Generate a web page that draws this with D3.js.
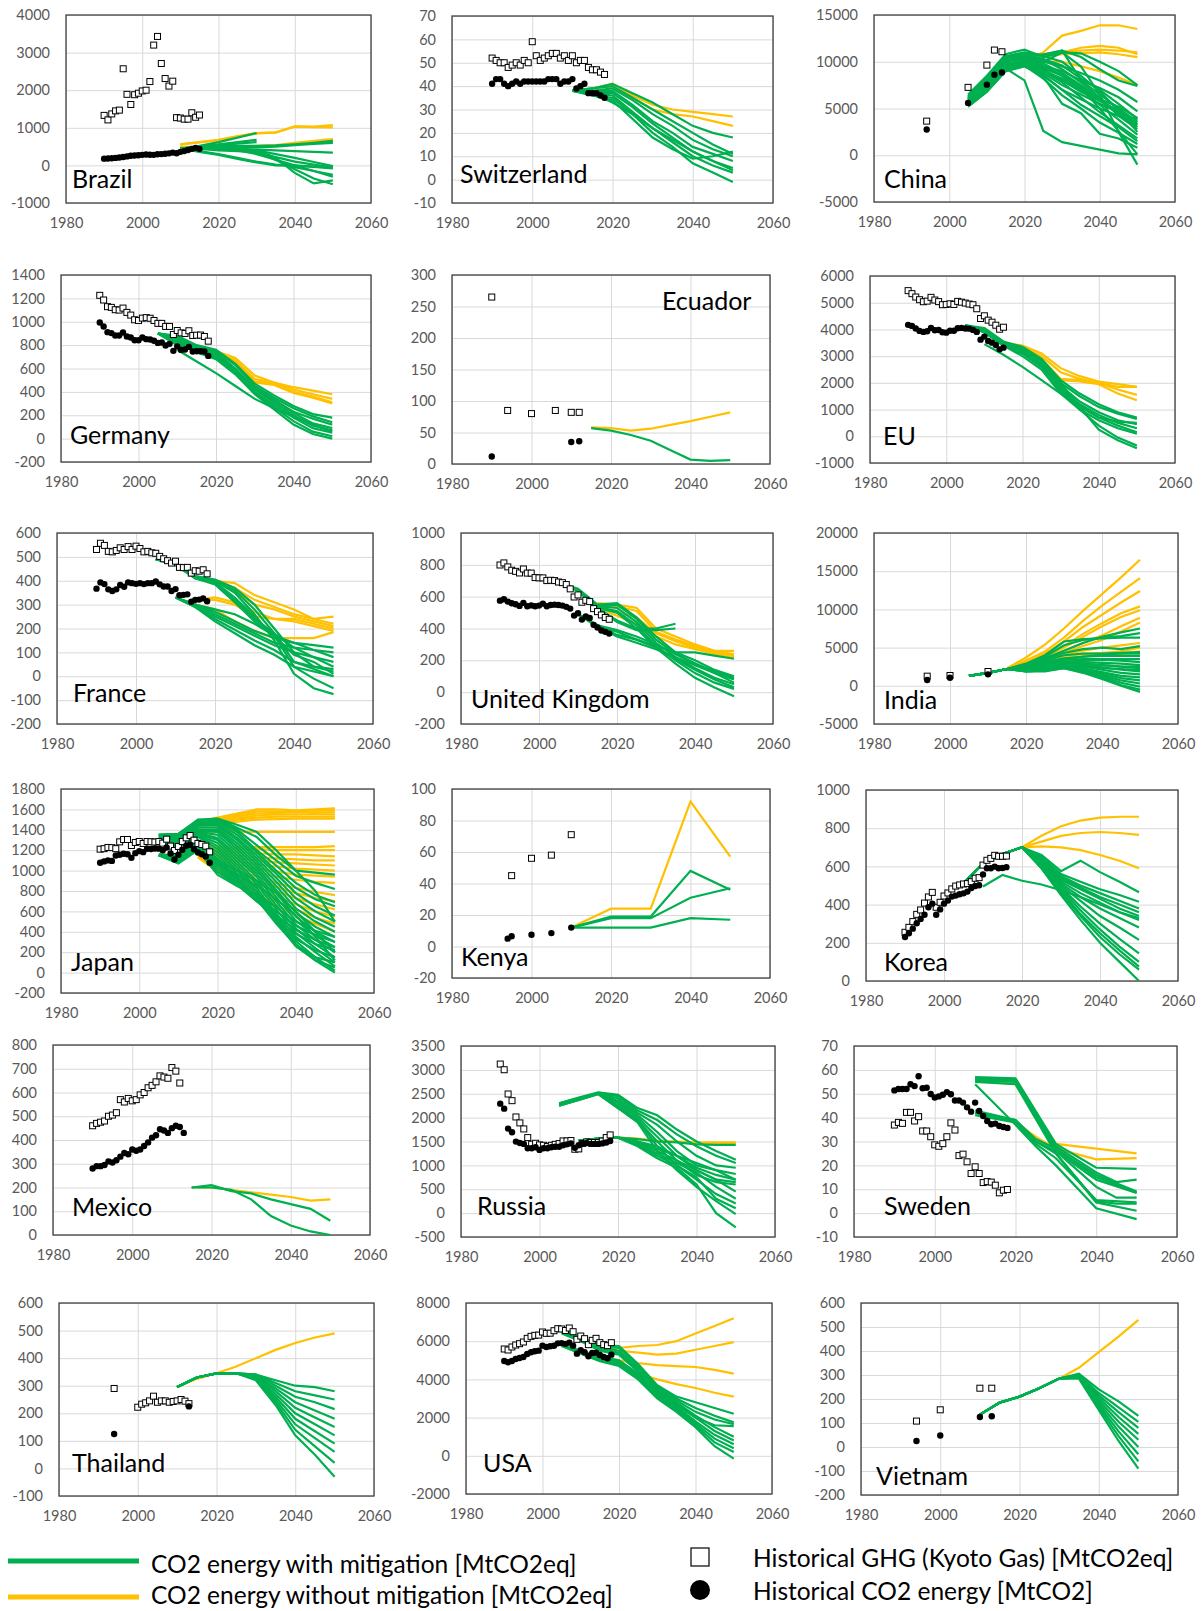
<!DOCTYPE html>
<html lang="en">
<head>
<meta charset="utf-8">
<title>CO2 energy pathways by country</title>
<script src="https://cdn.jsdelivr.net/npm/d3@7"></script>
<style>
  body { margin: 0; background: #fff; }
  svg text { font-family: Lato, "Open Sans", sans-serif; }
</style>
</head>
<body>
<div id="chart"></div>
<script>
// ---- data ----
const histYears = [1990,1991,1992,1993,1994,1995,1996,1997,1998,1999,2000,2001,2002,2003,2004,
                   2005,2006,2007,2008,2009,2010,2011,2012,2013,2014,2015,2016,2017,2018];
const scenYears = [2005,2010,2015,2020,2025,2030,2035,2040,2045,2050];

// Brazil
const brazilGhg = [1330,1210,1370,1450,1470,2570,1890,1620,1880,1920,1980,2000,2230,3200,3430,2710,2310,2110,2240,1270,1260,1230,1230,1400,1280,1340,null,null,null];
const brazilCo2 = [180,185,190,200,210,225,240,255,265,270,280,290,285,280,295,300,310,320,340,325,360,380,410,440,465,440,null,null,null];
const brazilMitigation = [
  [null,450,520,620,740,860,null,null,null,null],
  [null,450,500,560,620,680,null,null,null,null],
  [null,450,500,540,580,620,null,null,null,null],
  [null,450,480,520,520,520,530,560,600,650],
  [null,450,470,500,490,480,500,540,570,600],
  [null,450,460,450,440,420,400,380,360,340],
  [null,450,450,430,420,400,300,200,90,-20],
  [null,450,440,400,380,350,220,100,20,-50],
  [null,450,380,300,200,100,20,0,-30,-60],
  [null,450,360,280,170,80,0,-10,-40,-80],
  [null,450,470,480,450,400,200,-200,-480,-400],
  [null,450,460,460,430,380,150,-100,-350,-500],
  [null,450,450,440,400,300,150,0,-150,-300],
  [null,450,455,450,420,350,150,-50,-150,-250]
];
const brazilBaseline = [
  [null,560,620,680,780,860,880,1040,1030,1070],
  [null,560,610,670,760,850,870,1030,1020,1010],
  [null,500,480,480,500,520,540,600,650,700],
  [null,480,460,460,480,500,520,580,620,660]
];

// Switzerland
const swissGhg = [52,51,50,50,48,49,50,49,51,50,59,53,51,52,53,54,54,52,53,51,53,50,51,51,48,47,47,46,45];
const swissCo2 = [41,43,43,41,40,41,42,41,42,42,42,42,42,42,43,43,43,41,42,42,43,39,40,41,37,37,37,36,35];
const swissMitigation = [
  [null,38,39,41,37,33,28,23,20,18],
  [null,38,39,40,35,30,25,20,15,11],
  [null,38,38,39,34,28,23,17,13,10],
  [null,38,38,38,32,25,20,14,11,8],
  [null,38,37,37,31,24,18,12,8,5],
  [null,38,37,36,29,22,16,10,6,3],
  [null,38,36,35,28,20,14,7,3,-1],
  [null,38,36,34,26,18,13,9,10,12],
  [null,38,37,33,28,22,17,12,8,4]
];
const swissBaseline = [
  [null,38,39,41,36,32,30,29,28,27],
  [null,38,39,40,35,30,28,27,25,23]
];

// China
const chinaYears = [1994,2005,2010,2012,2014];
const chinaGhg = [3650,7260,9640,11250,11070];
const chinaCo2 = [2750,5600,7550,8620,8850];
const chinaMitigation = [
  [6500,8500,10800,11300,10500,11000,10900,10000,9000,7500],
  [6000,8000,10500,10500,10800,11200,10500,9200,8000,7400],
  [5800,7800,10200,10200,10000,9500,8800,8000,7000,5700],
  [5600,7500,9800,10000,9500,9000,8000,7200,6200,4700],
  [5400,7300,9500,9800,9000,8200,7000,6000,5200,4000],
  [5300,7000,9300,9600,8800,7500,6500,5500,4600,3800],
  [5200,6800,9000,9500,8500,7000,6000,5000,4200,3500],
  [5500,7200,9400,10000,9200,8000,6800,5800,4800,3300],
  [5800,7700,10000,10400,9800,8800,7500,6000,4500,3000],
  [6000,8000,10300,10600,10200,9200,7800,6200,4200,2800],
  [6200,8200,10400,10800,10600,10000,8500,6800,4800,2500],
  [5600,7400,9600,10200,9600,8500,7000,5400,3800,2200],
  [5400,7200,9400,10000,9000,7800,6200,4600,3200,1800],
  [5300,7000,9200,9800,8600,7000,5400,4200,3000,1500],
  [5200,6800,9000,9600,8200,6400,5000,3500,2400,1200],
  [5500,7300,9500,9900,8400,5500,4500,2300,1800,800],
  [5700,7600,9800,10100,9300,8500,7200,5000,2600,100],
  [5900,7900,10100,10500,10000,11000,9500,6500,2500,-1000],
  [5500,7200,9300,8000,2600,1400,1000,600,200,100],
  [6100,8100,10500,10800,10300,9600,8200,7000,5500,3900],
  [5700,7500,9700,10100,9400,8600,7300,5900,4400,3200],
  [6300,8300,10600,11000,10700,11200,8000,6500,5000,3600]
];
const chinaBaseline = [
  [null,null,9800,10200,11000,12800,13300,13900,13900,13500],
  [null,null,9800,10500,10800,11000,11500,11700,11500,10800],
  [null,null,9800,10000,10400,11000,11200,11300,11200,11000],
  [null,null,9800,10300,10500,10800,10900,11000,10800,10500],
  [null,null,9800,10000,10000,10000,9500,9000,8300,7500]
];

// Germany
const germanyGhg = [1226,1186,1129,1123,1103,1100,1117,1080,1057,1017,1011,1031,1035,1030,1011,986,986,960,960,891,925,905,900,923,882,885,886,874,834];
const germanyCo2 = [994,960,911,903,882,882,908,874,865,842,842,865,851,848,838,819,822,797,811,751,788,759,762,785,745,748,748,745,708];
const germanyMitigation = [
  [900,880,800,760,640,470,370,280,210,180],
  [900,870,790,750,630,450,350,260,190,140],
  [900,860,780,740,600,430,330,220,130,90],
  [900,850,770,720,590,420,310,200,110,70],
  [900,840,760,700,570,400,290,180,90,50],
  [900,830,750,690,560,390,270,150,60,20],
  [900,820,740,680,550,380,250,120,40,0],
  [null,760,660,560,450,340,260,190,120,60],
  [900,800,760,720,580,430,330,230,170,120]
];
const germanyBaseline = [
  [null,null,780,750,690,540,480,440,410,380],
  [null,null,780,740,670,510,480,420,380,340],
  [null,null,770,730,660,490,470,400,360,310],
  [null,null,760,720,650,480,460,390,350,300]
];

// Ecuador
const ecuadorGhgYears = [1990,1994,2000,2006,2010,2012];
const ecuadorGhg = [265,85,80,85,82,82];
const ecuadorCo2Years = [1990,2010,2012];
const ecuadorCo2 = [12,35,36];
const ecuadorMitigation = [[null,null,57,53,46,37,22,7,5,6]];
const ecuadorBaseline = [[null,null,58,57,53,56,62,68,75,82]];

// EU
const euGhg = [5452,5339,5213,5113,5037,5060,5201,5100,5040,4925,4935,4960,4935,5050,5020,4987,4950,4925,4774,4409,4510,4347,4271,4158,4008,4083,null,null,null];
const euCo2 = [4171,4133,4033,3945,3907,3930,4058,3970,3980,3894,3880,3950,3950,4045,4058,4033,4030,3982,3907,3618,3731,3568,3505,3417,3254,3317,null,null,null];
const euMitigation = [
  [4150,4050,3550,3350,2900,2100,1600,1200,900,700],
  [4150,4000,3500,3300,2850,2000,1500,1100,850,650],
  [4150,3950,3500,3250,2800,1900,1300,900,600,450],
  [4150,3950,3450,3200,2700,1800,1200,800,500,300],
  [4150,3900,3400,3100,2600,1700,1100,700,400,150],
  [4150,3900,3400,3000,2500,1600,1000,600,300,100],
  [4150,3900,3450,3150,2700,2000,1100,250,-150,-450],
  [4150,3900,3400,3100,2600,1800,1000,400,-50,-350],
  [null,3450,3050,2600,2100,1600,1150,700,550,500]
];
const euBaseline = [
  [null,null,3500,3400,3100,2550,2250,2050,1950,1850],
  [null,null,3500,3350,3000,2400,2150,2000,1850,1850],
  [null,null,3450,3300,2900,2150,2100,2000,1750,1550],
  [null,null,3450,3250,2850,2100,2050,1950,1600,1350]
];

// France
const franceGhg = [531,557,548,523,521,527,538,531,543,531,545,535,521,523,517,515,502,492,484,474,482,456,455,456,432,442,440,446,429];
const franceCo2 = [367,393,386,364,357,364,382,375,393,390,387,390,386,390,390,397,385,376,376,357,365,339,341,343,312,320,321,326,314];
const franceMitigation = [
  [490,470,420,405,370,300,200,100,40,20],
  [490,470,420,400,360,280,180,60,30,0],
  [490,470,415,400,350,260,150,10,-50,-75],
  [490,470,415,395,330,250,170,40,-10,-50],
  [490,470,410,390,320,240,180,120,80,40],
  [490,465,410,385,310,230,170,140,110,80],
  [null,330,300,270,230,190,160,140,130,120],
  [null,330,300,260,220,180,140,120,110,100],
  [null,330,295,250,210,170,130,100,80,60],
  [null,330,290,240,195,150,110,60,40,30],
  [null,330,290,230,180,130,90,40,20,0],
  [null,330,300,280,260,220,170,90,60,10]
];
const franceBaseline = [
  [null,null,410,400,390,340,310,280,240,250],
  [null,null,410,400,370,320,290,260,240,220],
  [null,null,410,395,360,300,280,250,230,210],
  [null,null,320,330,310,270,240,240,220,200],
  [null,null,300,280,230,190,160,160,160,185],
  [null,null,320,320,300,250,240,230,210,190]
];

// United Kingdom
const ukGhg = [799,812,787,766,759,749,774,748,748,720,718,718,701,703,701,692,688,676,649,598,611,565,577,569,525,506,485,469,458];
const ukCo2 = [575,584,569,559,552,542,561,540,545,540,544,556,540,548,550,548,544,536,525,481,496,456,475,466,423,406,387,379,368];
const ukMitigation = [
  [690,650,550,560,470,350,250,200,140,100],
  [690,645,545,550,460,330,240,180,120,80],
  [690,640,540,530,440,310,220,150,90,50],
  [690,640,535,510,420,290,200,120,60,20],
  [690,635,530,500,400,280,180,90,30,-25],
  [690,640,530,450,400,400,430,null,null,null],
  [690,640,530,440,390,390,400,null,null,null],
  [null,490,420,360,330,290,250,250,230,210],
  [null,490,410,350,310,270,220,170,120,60],
  [null,490,410,380,330,280,210,140,80,30],
  [null,490,420,390,350,300,240,180,130,90]
];
const ukBaseline = [
  [null,null,560,550,530,400,350,300,260,260],
  [null,null,550,540,510,380,330,290,255,240],
  [null,null,540,500,470,370,320,280,250,230],
  [null,null,530,480,430,350,300,270,240,220]
];

// India
const indiaYears = [1994,2000,2010];
const indiaGhg = [1260,1350,1870];
const indiaCo2 = [750,1050,1500];
const indiaMitigation = [
  [1300,1700,2200,2800,3600,4600,5600,6400,7000,7500],
  [1300,1700,2200,2900,4000,5800,6100,6200,6300,6300],
  [1300,1700,2200,2800,3800,5300,6000,6300,6500,6900],
  [1300,1700,2200,2700,3500,4300,4800,5000,4800,5200],
  [1300,1700,2200,2700,3300,4000,4200,4200,4300,4400],
  [1300,1700,2200,2600,3100,3600,3800,3900,3900,3900],
  [1300,1700,2200,2500,3000,3400,3500,3500,3500,3500],
  [1300,1700,2200,2500,2900,3200,3100,3000,2900,2700],
  [1300,1700,2200,2400,2800,3000,2900,2700,2500,2300],
  [1300,1700,2200,2300,2600,2900,2700,2400,2100,1900],
  [1300,1700,2200,2200,2500,2800,2500,2100,1700,1500],
  [1300,1700,2200,2100,2400,2700,2300,1800,1300,1100],
  [1300,1700,2200,2000,2200,2600,2100,1600,1000,700],
  [1300,1700,2200,2000,2100,2500,2000,1400,700,300],
  [1300,1700,2200,1900,2000,2400,1900,1200,400,-100],
  [1300,1700,2200,1900,1900,2300,1800,1000,100,-500],
  [1300,1700,2200,1900,2000,2300,1700,900,0,-800],
  [1300,1700,2200,2400,2900,3500,3800,4100,4200,4200],
  [1300,1700,2200,2300,2700,3100,3300,3400,3300,3100],
  [1300,1700,2200,2200,2600,2900,2800,2700,2500,2500],
  [1300,1700,2200,2100,2400,2800,2600,2300,2200,2100]
];
const indiaBaseline = [
  [null,null,2300,3700,5400,7500,9800,12000,14200,16500],
  [null,null,2200,3300,4500,6300,8500,10500,12300,14100],
  [null,null,2200,3100,4200,5800,7700,9300,10900,12400],
  [null,null,2200,3000,3900,5200,6800,8200,9500,10400],
  [null,null,2200,2900,3800,5000,6400,7800,9000,9900],
  [null,null,2200,2800,3600,4600,5600,6600,7800,8900],
  [null,null,2200,2800,3500,4300,5200,6000,7100,8300],
  [null,null,2100,2700,3300,4100,4600,5000,5300,5600],
  [null,null,2100,2700,3200,3900,4200,4300,4500,5000],
  [null,null,2100,2600,3100,3700,3900,4000,4200,4500]
];

// Japan
const japanGhg = [1210,1215,1227,1225,1215,1282,1305,1305,1246,1276,1285,1266,1285,1283,1280,1285,1269,1308,1240,1197,1237,1285,1321,1344,1298,1266,1256,1240,1184];
const japanCo2 = [1077,1090,1100,1095,1148,1155,1165,1160,1125,1171,1191,1181,1214,1212,1217,1215,1200,1227,1168,1109,1155,1204,1243,1253,1210,1178,1161,1139,1077];
const japanMitigation = [
  [1350,1360,1490,1510,1420,1330,1150,1000,980,960],
  [1350,1360,1480,1500,1400,1250,1100,950,880,820],
  [1350,1350,1470,1490,1380,1200,1050,880,760,690],
  [1340,1340,1460,1480,1350,1180,1000,830,720,650],
  [1340,1330,1450,1460,1320,1150,970,780,650,560],
  [1330,1320,1440,1440,1300,1120,930,730,600,500],
  [1330,1310,1420,1420,1270,1090,890,680,540,450],
  [1320,1300,1400,1400,1240,1060,850,630,500,400],
  [1320,1290,1390,1380,1210,1030,810,590,450,350],
  [1310,1280,1380,1350,1180,1000,780,550,400,300],
  [1300,1270,1370,1320,1150,970,740,510,360,250],
  [1300,1260,1360,1300,1120,940,700,470,320,200],
  [1290,1250,1350,1270,1090,900,660,430,280,150],
  [1280,1240,1340,1240,1060,870,620,390,240,100],
  [1270,1230,1330,1210,1030,830,580,350,200,60],
  [1160,1150,1300,1180,1000,800,550,310,150,20],
  [1160,1140,1280,1150,970,770,520,280,120,0],
  [1150,1130,1260,1120,940,740,500,260,120,50],
  [1150,1120,1250,1100,920,720,480,270,150,100],
  [1150,1110,1240,1080,900,720,520,330,220,150],
  [1150,1100,1230,1050,880,700,540,380,280,220],
  [1150,1090,1220,1020,860,700,560,420,320,250],
  [1150,1080,1210,990,860,740,600,460,370,300],
  [1150,1070,1200,960,850,760,640,500,410,350],
  [1150,1080,1230,1100,1000,900,780,600,400,200],
  [1150,1080,1220,1060,960,850,720,560,350,120],
  [1350,1360,1500,1510,1450,1380,1200,1000,800,500]
];
const japanBaseline = [
  [null,null,1480,1520,1560,1600,1600,1590,1600,1610],
  [null,null,1470,1510,1545,1580,1580,1580,1590,1590],
  [null,null,1460,1500,1530,1560,1565,1570,1570,1570],
  [null,null,1450,1490,1510,1540,1550,1550,1555,1550],
  [null,null,1440,1480,1500,1520,1530,1530,1530,1530],
  [null,null,1430,1460,1480,1500,1505,1510,1510,1510],
  [null,null,1380,1380,1380,1380,1380,1380,1380,1380],
  [null,null,1250,1230,1230,1230,1230,1230,1230,1240],
  [null,null,1240,1210,1210,1210,1200,1200,1200,1200],
  [null,null,1230,1200,1180,1170,1160,1160,1150,1140],
  [null,null,1220,1180,1150,1130,1120,1110,1100,1100],
  [null,null,1210,1160,1120,1100,1080,1070,1060,1050],
  [null,null,1200,1140,1090,1060,1040,1020,1010,1000],
  [null,null,1200,1120,1060,1020,990,960,950,940],
  [null,null,1190,1100,1030,980,940,910,890,880],
  [null,null,1180,1080,1000,940,880,830,790,760],
  [null,null,1170,1060,970,900,840,780,730,700],
  [null,null,1160,1040,950,870,800,730,670,620],
  [null,null,1150,1020,920,840,750,670,600,550],
  [null,null,1140,1000,900,800,700,620,540,480],
  [null,null,1130,990,880,770,660,560,480,400]
];

// Kenya
const kenyaGhgYears = [1995,2000,2005,2010];
const kenyaGhg = [45,56,58,71];
const kenyaCo2Years = [1994,1995,2000,2005,2010];
const kenyaCo2 = [5,6.5,7.5,8.5,12];
const kenyaMitigation = [
  [null,12,null,19,null,19,null,48,null,36],
  [null,12,null,18,null,18,null,31,null,37],
  [null,12,null,12,null,12,null,18,null,17]
];
const kenyaBaseline = [[null,12,null,24,null,24,null,92,null,57]];

// Korea
const koreaGhg = [255,281,311,349,372,408,440,464,386,412,445,461,482,497,503,508,510,520,538,541,607,632,642,658,653,653,654,null,null];
const koreaCo2 = [230,250,274,302,325,347,386,405,347,375,405,421,442,447,454,459,468,487,497,501,558,590,590,599,590,592,596,null,null];
const koreaMitigation = [
  [510,615,665,700,660,575,630,570,520,465],
  [510,615,665,700,650,560,520,480,450,415],
  [510,615,665,700,640,550,500,460,420,380],
  [510,615,665,700,630,540,490,440,400,360],
  [510,615,665,700,630,530,480,430,380,340],
  [510,615,665,700,620,520,460,410,360,320],
  [510,615,665,700,620,510,440,380,330,280],
  [510,615,665,700,610,500,420,340,280,215],
  [510,615,665,700,610,490,390,300,220,145],
  [510,615,665,700,600,480,370,270,180,100],
  [510,615,665,700,600,470,350,250,160,75],
  [510,615,665,700,590,460,340,230,140,60],
  [510,615,665,700,590,450,320,200,100,0],
  [null,495,555,525,505,475,440,400,360,330]
];
const koreaBaseline = [
  [null,null,null,700,760,810,840,855,860,860],
  [null,null,null,700,730,760,775,780,775,765],
  [null,null,null,700,705,700,685,660,630,590]
];

// Mexico
const mexicoGhg = [460,470,475,480,500,505,515,570,560,575,565,570,590,600,620,630,645,670,665,660,705,690,640,null,null,null,null,null,null];
const mexicoCo2 = [280,290,290,295,310,305,315,330,345,340,360,355,360,375,390,410,420,445,440,430,450,460,455,430,null,null,null,null,null];
const mexicoMitigation = [
  [null,null,200,210,185,175,150,130,110,60],
  [null,null,200,200,190,150,80,40,15,0]
];
const mexicoBaseline = [[null,null,200,200,190,180,170,160,145,150]];

// Russia
const russiaGhg = [3122,3003,2495,2355,2014,1889,1763,1582,1443,1463,1429,1420,1394,1420,1440,1456,1512,1512,1520,1338,1345,1460,1490,1480,1480,1480,1510,1582,1638];
const russiaCo2 = [2293,2188,1770,1693,1498,1470,1450,1359,1360,1380,1324,1360,1360,1380,1390,1390,1420,1440,1460,1370,1420,1460,1470,1450,1450,1450,1460,1480,1510];
const russiaMitigation = [
  [2300,2420,2530,2480,2200,2050,1750,1500,1300,1120],
  [2300,2410,2520,2450,2150,1950,1650,1400,1200,1050],
  [2290,2400,2520,2400,2100,1850,1500,1200,1000,950],
  [2280,2400,2510,2350,2050,1700,1300,1000,900,820],
  [2270,2390,2510,2300,2000,1600,1200,950,800,700],
  [2260,2380,2500,2250,1950,1500,1100,800,650,600],
  [2250,2370,2500,2200,1950,1400,1000,700,400,200],
  [2250,2370,2490,2200,1900,1300,900,550,250,-20],
  [null,1520,1560,1580,1550,1500,1480,1440,1430,1430],
  [null,1520,1560,1580,1500,1350,1200,1050,900,700],
  [null,1520,1560,1580,1480,1300,1100,900,700,450],
  [null,1520,1560,1580,1450,1250,1050,850,550,300],
  [null,1520,1560,1580,1430,1200,1000,750,300,100],
  [null,1520,1560,1580,1400,1150,950,600,0,-300],
  [null,1520,1560,1580,1500,1400,1200,900,700,650]
];
const russiaBaseline = [
  [null,null,null,1580,1560,1520,1500,1480,1480,1480],
  [null,null,null,1580,1550,1510,1490,1470,1465,1465]
];

// Sweden
const swedenGhg = [36.9,38,37.6,42.2,42.2,38.6,40.4,34.4,34.4,32,28.6,28,29.1,32,37.8,34.8,24.1,24.7,21.5,16.6,19.4,16.6,12.8,13.2,13,11.7,8.5,9.6,9.9];
const swedenCo2 = [51.4,52,52,52,54,53.2,57.3,52.3,52.5,49.9,48.4,48.9,49.6,50.7,49.8,47.2,47.2,46.3,44.3,42.5,46.3,42.8,40.7,38.6,37.2,37.5,36.5,36.1,35.7];
const swedenMitigation = [
  [null,57,null,56.5,null,29,null,19,null,18.5],
  [null,56.5,null,56,null,28,null,17,13,14],
  [null,56,null,55.5,null,27,null,15,null,8.5],
  [null,55.5,null,55,null,26,null,11,6.5,6.5],
  [null,55,null,54,null,25,null,5,4,4],
  [null,43,41,39,31,27,null,16,null,9],
  [null,42,40,38.5,30,26,null,14,null,8.5],
  [null,54,null,37,28,20,null,2,null,-2.5],
  [null,42,null,39,30,25,null,4.5,null,1],
  [null,41,null,38,29,23,null,5.5,null,4.5]
];
const swedenBaseline = [
  [null,55.5,null,54,null,29,null,27,null,25],
  [null,42,null,38,32,27,null,22.5,null,23]
];

// Thailand
const thailandGhgYears = [1994,2000,2001,2002,2003,2004,2005,2006,2007,2008,2009,2010,2011,2012,2013];
const thailandGhg = [290,222,233,238,245,262,240,245,245,240,243,245,250,244,235];
const thailandCo2Years = [1994,2013];
const thailandCo2 = [125,225];
const thailandMitigation = [
  [null,295,330,345,345,340,320,300,295,280],
  [null,295,330,345,345,340,310,280,265,250],
  [null,295,330,345,345,340,300,260,240,215],
  [null,295,330,345,345,335,290,240,210,180],
  [null,295,330,345,345,335,280,220,185,150],
  [null,295,330,345,345,330,270,200,160,120],
  [null,295,330,345,345,330,260,180,135,90],
  [null,295,330,345,345,325,250,160,110,60],
  [null,295,330,345,345,325,240,140,80,20],
  [null,295,330,345,345,320,230,120,50,-30]
];
const thailandBaseline = [[null,295,325,345,370,400,430,455,475,490]];

// USA
const usaGhg = [5592,5540,5697,5801,5871,5958,6150,6254,6307,6320,6481,6411,6420,6550,6655,6640,6560,6690,6498,6098,6271,6132,5819,6045,6150,5923,5819,5767,5923];
const usaCo2 = [4965,4895,4960,5070,5122,5174,5331,5418,5470,5505,5767,5697,5732,5760,5888,5900,5860,5923,5767,5348,5523,5418,5209,5383,5400,5279,5174,5104,5296];
const usaMitigation = [
  [6600,6200,5800,5750,4800,3700,3100,2800,2500,2200],
  [6550,6150,5750,5650,4700,3600,3000,2500,2100,1750],
  [6500,6100,5700,5500,4600,3500,2900,2300,1900,1650],
  [6450,6050,5600,5400,4500,3500,2800,2100,1500,1000],
  [6400,6000,5500,5300,4400,3400,2700,2000,1300,800],
  [5800,5500,5200,5000,4300,3300,2600,1800,1100,600],
  [5800,5450,5100,4900,4200,3200,2500,1700,900,400],
  [5750,5400,5000,4800,4100,3100,2400,1600,700,200],
  [5750,5350,4950,4700,4000,3000,2300,1500,500,-150],
  [5800,5500,5150,4900,4100,3200,2700,2000,1600,1550]
];
const usaBaseline = [
  [null,null,5600,5650,5750,5800,6000,6400,6800,7200],
  [null,null,5500,5500,5400,5300,5350,5550,5750,5950],
  [null,null,5200,5000,4850,4750,4700,4650,4500,4300],
  [null,null,5100,4800,4300,4000,3750,3550,3300,3100]
];

// Vietnam
const vietnamYears = [1994,2000,2010,2013];
const vietnamGhg = [108,155,245,245];
const vietnamCo2 = [25,48,125,128];
const vietnamMitigation = [
  [null,135,185,210,245,285,305,240,190,130],
  [null,135,185,210,245,285,300,225,165,105],
  [null,135,185,210,245,285,300,215,145,80],
  [null,135,185,210,245,285,300,205,125,55],
  [null,135,185,210,245,285,295,195,105,30],
  [null,135,185,210,245,285,295,185,85,0],
  [null,135,185,210,245,285,290,175,65,-30],
  [null,135,185,210,245,285,290,165,45,-60],
  [null,135,185,210,245,285,285,155,25,-90]
];
const vietnamBaseline = [[null,135,185,210,245,285,330,395,460,530]];

// ---- layout: plot boxes [left, top, right, bottom], y axis [min, max, step], label position ----
const panels = [
  { name: "Brazil", box: [66,15,371,203], y: [-1000,4000,1000], label: [72,188],
    ghg: [histYears, brazilGhg], co2: [histYears, brazilCo2], mit: brazilMitigation, base: brazilBaseline },
  { name: "Switzerland", box: [452,16,773,203], y: [-10,70,10], label: [460,183],
    ghg: [histYears, swissGhg], co2: [histYears, swissCo2], mit: swissMitigation, base: swissBaseline },
  { name: "China", box: [874,15,1175,202], y: [-5000,15000,5000], label: [884,188],
    ghg: [chinaYears, chinaGhg], co2: [chinaYears, chinaCo2], mit: chinaMitigation, base: chinaBaseline },
  { name: "Germany", box: [61,275,371,462], y: [-200,1400,200], label: [70,444],
    ghg: [histYears, germanyGhg], co2: [histYears, germanyCo2], mit: germanyMitigation, base: germanyBaseline },
  { name: "Ecuador", box: [452,275,770,464], y: [0,300,50], label: [662,310],
    ghg: [ecuadorGhgYears, ecuadorGhg], co2: [ecuadorCo2Years, ecuadorCo2], mit: ecuadorMitigation, base: ecuadorBaseline },
  { name: "EU", box: [870,276,1175,463], y: [-1000,6000,1000], label: [883,445],
    ghg: [histYears, euGhg], co2: [histYears, euCo2], mit: euMitigation, base: euBaseline },
  { name: "France", box: [57,533,373,724], y: [-200,600,100], label: [73,702],
    ghg: [histYears, franceGhg], co2: [histYears, franceCo2], mit: franceMitigation, base: franceBaseline },
  { name: "United Kingdom", box: [461,533,773,724], y: [-200,1000,200], label: [471,708],
    ghg: [histYears, ukGhg], co2: [histYears, ukCo2], mit: ukMitigation, base: ukBaseline },
  { name: "India", box: [874,533,1178,724], y: [-5000,20000,5000], label: [884,709],
    ghg: [indiaYears, indiaGhg], co2: [indiaYears, indiaCo2], mit: indiaMitigation, base: indiaBaseline },
  { name: "Japan", box: [61,789,374,993], y: [-200,1800,200], label: [71,971],
    ghg: [histYears, japanGhg], co2: [histYears, japanCo2], mit: japanMitigation, base: japanBaseline },
  { name: "Kenya", box: [452,789,770,978], y: [-20,100,20], label: [461,966],
    ghg: [kenyaGhgYears, kenyaGhg], co2: [kenyaCo2Years, kenyaCo2], mit: kenyaMitigation, base: kenyaBaseline },
  { name: "Korea", box: [866,790,1178,981], y: [0,1000,200], label: [884,971],
    ghg: [histYears, koreaGhg], co2: [histYears, koreaCo2], mit: koreaMitigation, base: koreaBaseline },
  { name: "Mexico", box: [53,1045,370,1235], y: [0,800,100], label: [72,1216],
    ghg: [histYears, mexicoGhg], co2: [histYears, mexicoCo2], mit: mexicoMitigation, base: mexicoBaseline },
  { name: "Russia", box: [461,1046,775,1237], y: [-500,3500,500], label: [477,1215],
    ghg: [histYears, russiaGhg], co2: [histYears, russiaCo2], mit: russiaMitigation, base: russiaBaseline },
  { name: "Sweden", box: [854,1046,1177,1237], y: [-10,70,10], label: [884,1215],
    ghg: [histYears, swedenGhg], co2: [histYears, swedenCo2], mit: swedenMitigation, base: swedenBaseline },
  { name: "Thailand", box: [59,1303,374,1496], y: [-100,600,100], label: [72,1472],
    ghg: [thailandGhgYears, thailandGhg], co2: [thailandCo2Years, thailandCo2], mit: thailandMitigation, base: thailandBaseline },
  { name: "USA", box: [466,1303,772,1494], y: [-2000,8000,2000], label: [483,1472],
    ghg: [histYears, usaGhg], co2: [histYears, usaCo2], mit: usaMitigation, base: usaBaseline },
  { name: "Vietnam", box: [861,1303,1178,1495], y: [-200,600,100], label: [876,1485],
    ghg: [vietnamYears, vietnamGhg], co2: [vietnamYears, vietnamCo2], mit: vietnamMitigation, base: vietnamBaseline }
];

const GREEN = "#00b050", YELLOW = "#ffc000";

const svg = d3.select("#chart").append("svg")
  .attr("width", 1204)
  .attr("height", 1611)
  .style("display", "block");

svg.append("rect").attr("width", 1204).attr("height", 1611).attr("fill", "#fff");

function zip(years, vals) {
  return years.map((yr, i) => [yr, vals[i]]).filter(d => d[1] != null);
}

// plain hyphen for negatives, like the original
const plain = d => String(d);

function drawPanel(p) {
  const [l, t, r, b] = p.box;
  const w = r - l, h = b - t;
  const g = svg.append("g").attr("transform", `translate(${l},${t})`);

  const x = d3.scaleLinear().domain([1980, 2060]).range([0, w]);
  const y = d3.scaleLinear().domain([p.y[0], p.y[1]]).range([h, 0]);
  const yTicks = d3.range(p.y[0], p.y[1] + p.y[2] / 2, p.y[2]);

  // gridlines + tick labels
  const yAxis = g.append("g")
    .call(d3.axisLeft(y).tickValues(yTicks).tickSize(-w).tickPadding(16).tickFormat(plain));
  const xAxis = g.append("g").attr("transform", `translate(0,${h})`)
    .call(d3.axisBottom(x).tickValues([1980, 2000, 2020, 2040, 2060]).tickSize(-h).tickPadding(15).tickFormat(plain));
  [yAxis, xAxis].forEach(a => {
    a.select(".domain").remove();
    a.selectAll("line").attr("stroke", "#d9d9d9").attr("stroke-width", 1);
    a.selectAll("text").attr("fill", "#595959").style("font-size", "14.5px");
  });

  g.append("rect")
    .attr("width", w).attr("height", h)
    .attr("fill", "none").attr("stroke", "#404040").attr("stroke-width", 1.3);

  const line = d3.line().x(d => x(d[0])).y(d => y(d[1]));

  g.selectAll(".base").data(p.base).join("path")
    .attr("class", "base")
    .attr("d", vals => line(zip(scenYears, vals)))
    .attr("fill", "none").attr("stroke", YELLOW).attr("stroke-width", 2.2);

  g.selectAll(".mit").data(p.mit).join("path")
    .attr("class", "mit")
    .attr("d", vals => line(zip(scenYears, vals)))
    .attr("fill", "none").attr("stroke", GREEN).attr("stroke-width", 2.2);

  g.selectAll(".ghg").data(zip(p.ghg[0], p.ghg[1])).join("rect")
    .attr("class", "ghg")
    .attr("x", d => x(d[0]) - 3).attr("y", d => y(d[1]) - 3)
    .attr("width", 6).attr("height", 6)
    .attr("fill", "#fff").attr("stroke", "#000").attr("stroke-width", 1);

  g.selectAll(".co2").data(zip(p.co2[0], p.co2[1])).join("circle")
    .attr("class", "co2")
    .attr("cx", d => x(d[0])).attr("cy", d => y(d[1]))
    .attr("r", 3.2).attr("fill", "#000");

  svg.append("text")
    .attr("x", p.label[0]).attr("y", p.label[1])
    .attr("fill", "#000")
    .style("font-size", "25px")
    .text(p.name);
}

panels.forEach(drawPanel);

// legend
const legend = svg.append("g");
legend.append("line").attr("x1", 8).attr("x2", 139).attr("y1", 1561).attr("y2", 1561)
  .attr("stroke", GREEN).attr("stroke-width", 5);
legend.append("line").attr("x1", 8).attr("x2", 139).attr("y1", 1597).attr("y2", 1597)
  .attr("stroke", YELLOW).attr("stroke-width", 5);
legend.append("text").attr("x", 151).attr("y", 1564).attr("dy", "0.35em")
  .style("font-size", "24.5px").text("CO2 energy with mitigation [MtCO2eq]");
legend.append("text").attr("x", 151).attr("y", 1595).attr("dy", "0.35em")
  .style("font-size", "24.5px").text("CO2 energy without mitigation [MtCO2eq]");
legend.append("rect").attr("x", 691).attr("y", 1548).attr("width", 18).attr("height", 18)
  .attr("fill", "none").attr("stroke", "#000").attr("stroke-width", 1.2);
legend.append("circle").attr("cx", 700).attr("cy", 1590).attr("r", 10).attr("fill", "#000");
legend.append("text").attr("x", 753).attr("y", 1558).attr("dy", "0.35em")
  .style("font-size", "24.5px").text("Historical GHG (Kyoto Gas) [MtCO2eq]");
legend.append("text").attr("x", 753).attr("y", 1591).attr("dy", "0.35em")
  .style("font-size", "24.5px").text("Historical CO2 energy [MtCO2]");
</script>
</body>
</html>
